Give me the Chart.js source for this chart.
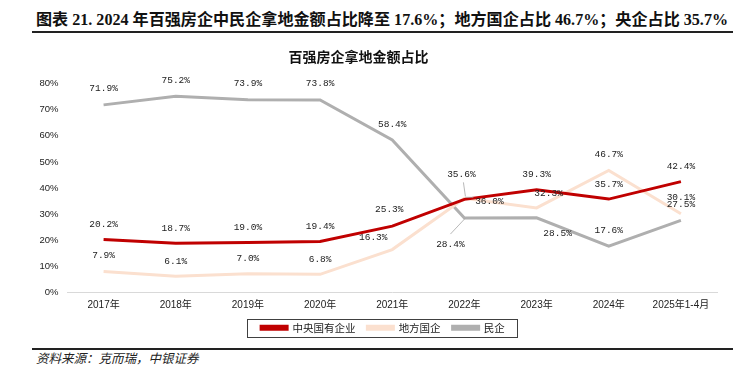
<!DOCTYPE html>
<html>
<head>
<meta charset="utf-8">
<script src="https://cdn.jsdelivr.net/npm/chart.js@4"></script>
<style>
  html, body { margin: 0; padding: 0; background: #fff; }
  body { width: 749px; height: 383px; position: relative; overflow: hidden; }
  #hdr { position: absolute; left: 36px; top: 10px; font-family: "Liberation Serif", "Noto Sans CJK SC", serif; font-weight: bold; font-size: 16.1px; color: #111; white-space: nowrap; line-height: 20px; }
  .rule { position: absolute; left: 32px; width: 701px; height: 1.5px; background: #222; }
  #src { position: absolute; left: 36px; top: 349px; font-family: "Noto Sans CJK SC", sans-serif; font-style: italic; font-size: 12.5px; color: #222; line-height: 18px; white-space: nowrap; }
  #wrap { position: absolute; left: 0; top: 36px; width: 749px; height: 310px; }
</style>
</head>
<body>
<div id="hdr">图表 21. 2024 年百强房企中民企拿地金额占比降至 17.6%；地方国企占比 46.7%；央企占比 35.7%</div>
<div class="rule" style="top:31px"></div>
<div id="wrap"><canvas id="c"></canvas></div>
<div class="rule" style="top:348px"></div>
<div id="src">资料来源：克而瑞，中银证券</div>
<script>
// ---- data ----
const categories = ['2017年','2018年','2019年','2020年','2021年','2022年','2023年','2024年','2025年1-4月'];
const centralSOE = [20.2, 18.7, 19.0, 19.4, 25.3, 35.6, 39.3, 35.7, 42.4];
const localSOE   = [7.9, 6.1, 7.0, 6.8, 16.3, 36.0, 32.3, 46.7, 30.1];
const privateEnt = [71.9, 75.2, 73.9, 73.8, 58.4, 28.4, 28.5, 17.6, 27.5];
const seriesNames = ['中央国有企业', '地方国企', '民企'];
const chartTitle = '百强房企拿地金额占比';
const yTickValues = [0, 10, 20, 30, 40, 50, 60, 70, 80];

// ---- label placement (styling, relative to each point) ----
const labelOffsets = [
  [[0,-15],[0,-15],[0,-15],[0,-15],[-3,-17],[-3,-25],[0,-15],[0,-15],[0,-15]],
  [[0,-16],[0,-15],[0,-15],[0,-15],[-19,-12],[25,3],[12,-14],[0,-16],[0,-16]],
  [[0,-16],[0,-16],[0,-16],[0,-16],[0,-16],[-14,26],[21,16],[0,-16],[0,-16]]
];
const leaders = [
  {5: [-1,-17, 1,-3]},
  {5: [1,-1, 9,-1]},
  {5: [-14,16, 1,0]}
];
const legendShift = 24.5;

const labelPlugin = {
  id: 'pointLabels',
  afterDatasetsDraw(chart) {
    const ctx = chart.ctx;
    ctx.save();
    ctx.font = '9.5px "Liberation Mono", "DejaVu Sans Mono", monospace';
    ctx.fillStyle = '#222';
    ctx.textAlign = 'center';
    ctx.textBaseline = 'middle';
    chart.data.datasets.forEach((ds, di) => {
      const meta = chart.getDatasetMeta(di);
      meta.data.forEach((pt, i) => {
        const off = labelOffsets[di][i];
        const ld = leaders[di][i];
        if (ld) {
          ctx.strokeStyle = '#A6A6A6';
          ctx.lineWidth = 0.8;
          ctx.beginPath();
          ctx.moveTo(pt.x + ld[0], pt.y + ld[1]);
          ctx.lineTo(pt.x + ld[2], pt.y + ld[3]);
          ctx.stroke();
        }
        ctx.fillText(ds.data[i].toFixed(1) + '%', pt.x + off[0], pt.y + off[1]);
      });
    });
    ctx.restore();
  }
};

const legendBoxPlugin = {
  id: 'legendBox',
  afterLayout(chart) {
    const lg = chart.legend;
    if (lg) { lg.left += legendShift; lg.right += legendShift; }
  },
  afterDraw(chart) {
    const lg = chart.legend;
    if (!lg || !lg.legendHitBoxes || !lg.legendHitBoxes.length) return;
    let x0 = Infinity, x1 = -Infinity, y0 = Infinity, y1 = -Infinity;
    lg.legendHitBoxes.forEach(b => {
      x0 = Math.min(x0, b.left); x1 = Math.max(x1, b.left + b.width);
      y0 = Math.min(y0, b.top); y1 = Math.max(y1, b.top + b.height);
    });
    const ctx = chart.ctx;
    ctx.save();
    ctx.strokeStyle = '#404040';
    ctx.lineWidth = 1;
    const cy = (y0 + y1) / 2;
    ctx.strokeRect(Math.round(x0 - 14) + 0.5, Math.round(cy - 9) + 0.5, Math.round(x1 - x0 + 26), 18);
    ctx.restore();
  }
};

new Chart(document.getElementById('c'), {
  type: 'line',
  data: {
    labels: categories,
    datasets: [
      { label: seriesNames[0], data: centralSOE, borderColor: '#C00000', backgroundColor: '#C00000', borderWidth: 3 },
      { label: seriesNames[1], data: localSOE, borderColor: '#FBE0CF', backgroundColor: '#FBE0CF', borderWidth: 3 },
      { label: seriesNames[2], data: privateEnt, borderColor: '#AFAFAF', backgroundColor: '#AFAFAF', borderWidth: 3 }
    ]
  },
  options: {
    responsive: true,
    maintainAspectRatio: false,
    animation: false,
    devicePixelRatio: 1,
    elements: { point: { radius: 0, hoverRadius: 0 }, line: { tension: 0, borderCapStyle: 'butt', borderJoinStyle: 'miter' } },
    layout: { padding: { left: 0, right: 32, top: 0, bottom: 3 } },
    plugins: {
      title: {
        display: true, text: chartTitle, color: '#111',
        font: { family: '"Noto Sans CJK SC", sans-serif', size: 14, weight: 'bold' },
        padding: { top: 12, bottom: 19 }
      },
      legend: {
        position: 'bottom',
        labels: {
          boxWidth: 26, boxHeight: 3, padding: 12, color: '#222',
          font: { family: '"Noto Sans CJK SC", sans-serif', size: 10.5 }
        }
      },
      tooltip: { enabled: false }
    },
    scales: {
      x: {
        offset: true,
        afterFit(scale) { scale.height = 18.5; },
        grid: { display: false, drawTicks: false },
        border: { display: true, color: '#D9D9D9', width: 1 },
        ticks: { color: '#222', padding: 7, maxRotation: 0, autoSkip: false,
          font: { family: '"Liberation Sans", "Noto Sans CJK SC", sans-serif', size: 10 } }
      },
      y: {
        min: 0, max: 80,
        afterFit(scale) { scale.width = 67.5; },
        afterBuildTicks(scale) { scale.ticks = yTickValues.map(v => ({ value: v })); },
        grid: { display: false, drawTicks: false },
        border: { display: false },
        ticks: { color: '#222', padding: 9, callback: v => v + '%',
          font: { family: '"Liberation Sans", sans-serif', size: 9.5 } }
      }
    }
  },
  plugins: [labelPlugin, legendBoxPlugin]
});
</script>
</body>
</html>
